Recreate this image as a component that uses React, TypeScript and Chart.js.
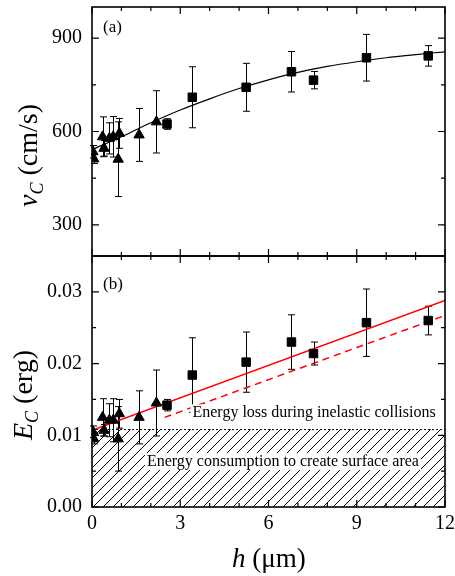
import React, { useEffect, useRef } from "react";
import { Chart, registerables } from "chart.js";

Chart.register(...registerables);

const SERIF = "'Liberation Serif', 'Times New Roman', Times, serif";

// ---- shared x axis (h, µm)
const H_MIN = 0;
const H_MAX = 12;
const H_MAJOR = [0, 3, 6, 9, 12];
const H_MINOR = [1, 2, 4, 5, 7, 8, 10, 11];

// ---- panel (a): v_C (cm/s)
const V_MIN = 200;
const V_MAX = 1000;
const V_MAJOR = [300, 600, 900];
const V_MINOR = [450, 750];

const TRI_H = [0.03, 0.06, 0.36, 0.41, 0.59, 0.72, 0.89, 0.93, 1.6, 2.19];
const TRI_V = [535, 512, 583, 546, 578, 583, 511, 594, 589, 631];
const TRI_V_ERR = [20, 15, 64, 25, 50, 65, 120, 48, 85, 100];

const SQ_H = [2.55, 3.41, 5.24, 6.78, 7.53, 9.33, 11.43];
const SQ_V = [624, 710, 742, 792, 765, 837, 843];
const SQ_V_ERR = [17, 98, 77, 65, 28, 75, 33];

const FIT_H = [0, 1, 2, 3, 4, 5, 6, 7, 8, 9, 10, 11, 12];
const FIT_V = [542, 583, 628, 669, 705, 738, 766, 790, 809, 824, 837, 847, 856];

// ---- panel (b): E_C (erg)
const E_MIN = 0;
const E_MAX = 0.035;
const E_MAJOR = [0, 0.01, 0.02, 0.03];
const E_MINOR = [0.005, 0.015, 0.025];

const TRI_E = [0.0105, 0.0095, 0.0125, 0.0107, 0.0121, 0.0121, 0.0095, 0.013, 0.0125, 0.0145];
const TRI_E_ERR = [0.0008, 0.0007, 0.0026, 0.0008, 0.0023, 0.003, 0.0045, 0.002, 0.0037, 0.0046];

const SQ_E = [0.0142, 0.0184, 0.0202, 0.023, 0.0214, 0.0257, 0.026];
const SQ_E_ERR = [0.0008, 0.0052, 0.0042, 0.0038, 0.0016, 0.0047, 0.002];

const TOTAL_H = [0, 12];
const TOTAL_E = [0.0107, 0.0288];
const LOSS_H = [2.47, 12];
const LOSS_E = [0.0125, 0.0267];
const SURFACE_H = [0, 12];
const SURFACE_E = [0.0108, 0.0108];

const LOSS_LABEL = "Energy loss during inelastic collisions";
const SURFACE_LABEL = "Energy consumption to create surface area";

const pts = (xs: number[], ys: number[]) => xs.map((x, i) => ({ x, y: ys[i] }));

type Run = { text: string; font: string; dy?: number };
function drawRuns(ctx: CanvasRenderingContext2D, runs: Run[]) {
  let cx = 0;
  for (const r of runs) {
    ctx.font = r.font;
    ctx.fillText(r.text, cx, r.dy || 0);
    cx += ctx.measureText(r.text).width;
  }
}

function makeFrame(xMajor: number[], xMinor: number[], yMajor: number[], yMinor: number[]) {
  return {
    id: "frame",
    afterDraw(chart: any) {
      const { ctx, chartArea: a, scales } = chart;
      const xs = scales.x;
      const ys = scales.y;
      ctx.save();
      ctx.strokeStyle = "#000";
      ctx.lineWidth = 1.2;
      ctx.beginPath();
      const xt = (v: number, len: number) => {
        const p = xs.getPixelForValue(v);
        ctx.moveTo(p, a.bottom);
        ctx.lineTo(p, a.bottom - len);
        ctx.moveTo(p, a.top);
        ctx.lineTo(p, a.top + len);
      };
      const yt = (v: number, len: number) => {
        const p = ys.getPixelForValue(v);
        ctx.moveTo(a.left, p);
        ctx.lineTo(a.left + len, p);
        ctx.moveTo(a.right, p);
        ctx.lineTo(a.right - len, p);
      };
      xMajor.forEach((v) => xt(v, 7));
      xMinor.forEach((v) => xt(v, 4));
      yMajor.forEach((v) => yt(v, 7));
      yMinor.forEach((v) => yt(v, 4));
      ctx.stroke();
      ctx.lineWidth = 1.6;
      ctx.strokeRect(a.left, a.top, a.right - a.left, a.bottom - a.top);
      ctx.restore();
    },
  };
}

function makeErrBars(sets: { xs: number[]; ys: number[]; es: number[] }[]) {
  return {
    id: "errbars",
    beforeDatasetsDraw(chart: any) {
      const { ctx, scales } = chart;
      ctx.save();
      ctx.strokeStyle = "#000";
      ctx.lineWidth = 1;
      ctx.beginPath();
      for (const s of sets) {
        s.xs.forEach((xv, i) => {
          const px = Math.round(scales.x.getPixelForValue(xv)) + 0.5;
          const t = scales.y.getPixelForValue(s.ys[i] + s.es[i]);
          const b = scales.y.getPixelForValue(s.ys[i] - s.es[i]);
          ctx.moveTo(px, t);
          ctx.lineTo(px, b);
          ctx.moveTo(px - 3.5, t);
          ctx.lineTo(px + 3.5, t);
          ctx.moveTo(px - 3.5, b);
          ctx.lineTo(px + 3.5, b);
        });
      }
      ctx.stroke();
      ctx.restore();
    },
  };
}

const tickFont = { family: SERIF, size: 20 };

function yScale(min: number, max: number, major: number[], fmt: (v: number) => string) {
  return {
    type: "linear",
    min,
    max,
    grid: { display: false, drawTicks: false },
    border: { display: false },
    ticks: { font: tickFont, color: "#000", padding: 10, callback: (v: any) => fmt(Number(v)) },
    afterBuildTicks(s: any) {
      s.ticks = major.map((value) => ({ value }));
    },
    afterFit(s: any) {
      s.width = 92;
      s.paddingTop = 0;
      s.paddingBottom = 0;
    },
  };
}

const triangleStyle = {
  pointStyle: "triangle",
  pointRadius: 6,
  backgroundColor: "#000",
  borderColor: "#000",
  borderWidth: 1,
  showLine: false,
  order: 0,
};
const squareStyle = {
  pointStyle: "rect",
  pointRadius: 6,
  backgroundColor: "#000",
  borderColor: "#000",
  borderWidth: 1,
  showLine: false,
  order: 0,
};

export default function App() {
  const topRef = useRef<HTMLCanvasElement>(null);
  const botRef = useRef<HTMLCanvasElement>(null);

  useEffect(() => {
    const base = {
      responsive: false,
      animation: false,
      devicePixelRatio: 1,
      events: [],
      plugins: { legend: { display: false }, tooltip: { enabled: false } },
    };

    const topChart = new Chart(topRef.current as HTMLCanvasElement, {
      type: "scatter",
      data: {
        datasets: [
          {
            data: pts(FIT_H, FIT_V),
            showLine: true,
            borderColor: "#000",
            borderWidth: 1.2,
            pointRadius: 0,
            cubicInterpolationMode: "monotone",
            order: 5,
          },
          { ...triangleStyle, data: pts(TRI_H, TRI_V) },
          { ...squareStyle, data: pts(SQ_H, SQ_V) },
        ],
      } as any,
      options: {
        ...base,
        layout: { padding: { top: 7, right: 10, bottom: 320, left: 0 } },
        scales: {
          x: { type: "linear", min: H_MIN, max: H_MAX, display: false },
          y: yScale(V_MIN, V_MAX, V_MAJOR, (v) => String(v)),
        },
      } as any,
      plugins: [
        makeErrBars([
          { xs: TRI_H, ys: TRI_V, es: TRI_V_ERR },
          { xs: SQ_H, ys: SQ_V, es: SQ_V_ERR },
        ]),
        makeFrame(H_MAJOR, H_MINOR, V_MAJOR, V_MINOR),
        {
          id: "labelsA",
          afterDraw(chart: any) {
            const ctx = chart.ctx;
            ctx.save();
            ctx.fillStyle = "#000";
            ctx.textBaseline = "alphabetic";
            ctx.font = `17px ${SERIF}`;
            ctx.fillText("(a)", 103, 32);
            ctx.translate(37, 207);
            ctx.rotate(-Math.PI / 2);
            drawRuns(ctx, [
              { text: "v", font: `italic 28px ${SERIF}` },
              { text: "C", font: `italic 18px ${SERIF}`, dy: 6 },
              { text: " (cm/s)", font: `28px ${SERIF}` },
            ]);
            ctx.restore();
          },
        },
      ],
    });

    // hatch pattern
    const pc = document.createElement("canvas");
    pc.width = 10;
    pc.height = 10;
    const g = pc.getContext("2d") as CanvasRenderingContext2D;
    g.strokeStyle = "#000";
    g.lineWidth = 1;
    g.beginPath();
    g.moveTo(-1, 11);
    g.lineTo(11, -1);
    g.moveTo(-6, 6);
    g.lineTo(6, -6);
    g.moveTo(4, 16);
    g.lineTo(16, 4);
    g.stroke();
    const botCanvas = botRef.current as HTMLCanvasElement;
    const pattern = (botCanvas.getContext("2d") as CanvasRenderingContext2D).createPattern(pc, "repeat");

    const botChart = new Chart(botCanvas, {
      type: "scatter",
      data: {
        datasets: [
          {
            data: pts(SURFACE_H, SURFACE_E),
            showLine: true,
            borderColor: "#000",
            borderWidth: 1,
            borderDash: [2, 2],
            pointRadius: 0,
            fill: "origin",
            backgroundColor: pattern,
            order: 10,
          },
          {
            data: pts(TOTAL_H, TOTAL_E),
            showLine: true,
            borderColor: "#ff0000",
            borderWidth: 1.5,
            pointRadius: 0,
            order: 5,
          },
          {
            data: pts(LOSS_H, LOSS_E),
            showLine: true,
            borderColor: "#ff0000",
            borderWidth: 1.5,
            borderDash: [7, 5],
            pointRadius: 0,
            order: 5,
          },
          { ...triangleStyle, data: pts(TRI_H, TRI_E) },
          { ...squareStyle, data: pts(SQ_H, SQ_E) },
        ],
      } as any,
      options: {
        ...base,
        layout: { padding: { top: 256, right: 10, bottom: 0, left: 0 } },
        scales: {
          x: {
            type: "linear",
            min: H_MIN,
            max: H_MAX,
            grid: { display: false, drawTicks: false },
            border: { display: false },
            ticks: { font: tickFont, color: "#000", padding: 5, maxRotation: 0, autoSkip: false },
            afterBuildTicks(s: any) {
              s.ticks = H_MAJOR.map((value) => ({ value }));
            },
            afterFit(s: any) {
              s.height = 69;
              s.paddingLeft = 0;
              s.paddingRight = 0;
            },
          },
          y: yScale(E_MIN, E_MAX, E_MAJOR, (v) => v.toFixed(2)),
        },
      } as any,
      plugins: [
        makeErrBars([
          { xs: TRI_H, ys: TRI_E, es: TRI_E_ERR },
          { xs: SQ_H, ys: SQ_E, es: SQ_E_ERR },
        ]),
        {
          id: "boxedLabels",
          afterDatasetsDraw(chart: any) {
            const { ctx, scales } = chart;
            ctx.save();
            ctx.font = `16px ${SERIF}`;
            ctx.textAlign = "center";
            ctx.textBaseline = "alphabetic";
            const put = (text: string, hx: number, ey: number) => {
              const cx = scales.x.getPixelForValue(hx);
              const by = scales.y.getPixelForValue(ey);
              const w = ctx.measureText(text).width;
              ctx.fillStyle = "#fff";
              ctx.fillRect(cx - w / 2 - 2, by - 13, w + 4, 17);
              ctx.fillStyle = "#000";
              ctx.fillText(text, cx, by);
            };
            put(LOSS_LABEL, 7.55, 0.0125);
            put(SURFACE_LABEL, 6.49, 0.0057);
            ctx.restore();
          },
        },
        makeFrame(H_MAJOR, H_MINOR, E_MAJOR, E_MINOR),
        {
          id: "labelsB",
          afterDraw(chart: any) {
            const ctx = chart.ctx;
            ctx.save();
            ctx.fillStyle = "#000";
            ctx.textBaseline = "alphabetic";
            ctx.font = `17px ${SERIF}`;
            ctx.fillText("(b)", 103, 289);
            ctx.save();
            ctx.translate(232, 567);
            drawRuns(ctx, [
              { text: "h", font: `italic 27px ${SERIF}` },
              { text: " (\u03BCm)", font: `27px ${SERIF}` },
            ]);
            ctx.restore();
            ctx.translate(32, 440);
            ctx.rotate(-Math.PI / 2);
            drawRuns(ctx, [
              { text: "E", font: `italic 28px ${SERIF}` },
              { text: "C", font: `italic 18px ${SERIF}`, dy: 6 },
              { text: " (erg)", font: `28px ${SERIF}` },
            ]);
            ctx.restore();
          },
        },
      ],
    });

    return () => {
      topChart.destroy();
      botChart.destroy();
    };
  }, []);

  const cs: React.CSSProperties = { position: "absolute", left: 0, top: 0, width: 455, height: 576 };
  return (
    <div style={{ position: "fixed", left: 0, top: 0, width: 455, height: 576, background: "#fff" }}>
      <canvas ref={topRef} width={455} height={576} style={cs} />
      <canvas ref={botRef} width={455} height={576} style={cs} />
    </div>
  );
}
